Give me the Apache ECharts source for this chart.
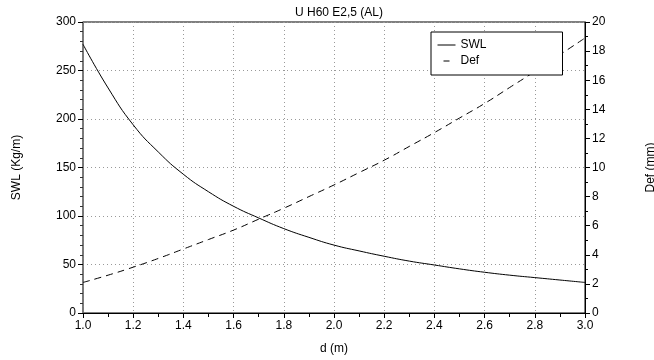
<!DOCTYPE html>
<html>
<head>
<meta charset="utf-8">
<script src="https://cdn.jsdelivr.net/npm/echarts@6/dist/echarts.min.js"></script>
<style>html,body{margin:0;padding:0;background:#fff;}#c{width:654px;height:360px;}</style>
</head>
<body>
<div id="c"></div>
<script>
var dValues = [1.0,1.1,1.2,1.3,1.4,1.5,1.6,1.7,1.8,1.9,2.0,2.1,2.2,2.3,2.4,2.5,2.6,2.7,2.8,2.9,3.0];
var swlValues = [277,232,194,166,143,125,110,98,87,78,70,64,58.5,53.5,49.5,45.5,42,39,36.5,34,31.5];
var defValues = [2.1,2.6,3.15,3.75,4.4,5.05,5.7,6.45,7.2,8.0,8.8,9.65,10.5,11.45,12.4,13.4,14.4,15.5,16.6,17.75,18.9];
var seriesNames = ['SWL','Def'];
var titleText = 'U H60 E2,5 (AL)';
var xName = 'd (m)', yLeftName = 'SWL (Kg/m)', yRightName = 'Def (mm)';

var FONT = 'Liberation Sans, Arial, sans-serif';
function pairs(xs, ys){ return xs.map(function(x,i){ return [x, ys[i]]; }); }
var chart = echarts.init(document.getElementById('c'), null, {renderer:'canvas'});
var gridLine = {show:true, lineStyle:{color:'#999', type:[1,3], width:1}};
chart.setOption({
  animation:false,
  backgroundColor:'#fff',
  textStyle:{fontFamily:FONT, color:'#000'},
  title:{text:titleText, left:334, textAlign:'center', top:2,
    textStyle:{fontFamily:FONT, fontSize:12, fontWeight:'normal', color:'#000'}},
  grid:{left:83, right:69, top:22, bottom:47, containLabel:false, outerBoundsMode:'none',
    show:true, borderColor:'#000', borderWidth:1, backgroundColor:'transparent'},
  legend:{orient:'vertical', left:431, top:32, padding:[7,76,8,6], itemWidth:18, itemHeight:12, itemGap:4,
    backgroundColor:'#fff', borderColor:'#000', borderWidth:1, borderRadius:0,
    itemStyle:{opacity:0, color:'transparent', borderWidth:0},
    textStyle:{fontFamily:FONT, fontSize:12, color:'#000'},
    data:[
      {name:seriesNames[0], lineStyle:{type:'solid', width:1, color:'#000'}},
      {name:seriesNames[1], lineStyle:{type:[6,30], dashOffset:30, width:1, color:'#000'}}
    ]},
  xAxis:{type:'value', min:1, max:3, interval:0.2, name:xName, nameLocation:'middle', nameGap:30,
    nameTextStyle:{fontFamily:FONT, fontSize:12, color:'#000'},
    axisLine:{show:true, lineStyle:{color:'#000', width:1}},
    axisTick:{show:true, length:5, lineStyle:{color:'#000'}},
    minorTick:{show:true, splitNumber:2, length:4, lineStyle:{color:'#000'}},
    axisLabel:{fontFamily:FONT, fontSize:12, color:'#000', margin:7, formatter:function(v){return v.toFixed(1);}},
    splitLine:gridLine},
  yAxis:[
    {type:'value', min:0, max:300, interval:50, position:'left', name:yLeftName, nameLocation:'middle', nameGap:60, nameRotate:90,
      nameTextStyle:{fontFamily:FONT, fontSize:12, color:'#000'},
      axisLine:{show:true, lineStyle:{color:'#777', width:1.5}},
      axisTick:{show:true, length:5, lineStyle:{color:'#000'}},
      minorTick:{show:true, splitNumber:5, length:3, lineStyle:{color:'#333'}},
      axisLabel:{fontFamily:FONT, fontSize:12, color:'#000', margin:7},
      splitLine:gridLine},
    {type:'value', min:0, max:20, interval:2, position:'right', name:yRightName, nameLocation:'middle', nameGap:60, nameRotate:90,
      nameTextStyle:{fontFamily:FONT, fontSize:12, color:'#000'},
      axisLine:{show:true, lineStyle:{color:'#000', width:1}},
      axisTick:{show:true, length:5, lineStyle:{color:'#000'}},
      minorTick:{show:true, splitNumber:2, length:3, lineStyle:{color:'#000'}},
      axisLabel:{fontFamily:FONT, fontSize:12, color:'#000', margin:7},
      splitLine:{show:false}}
  ],
  series:[
    {name:seriesNames[0], type:'line', yAxisIndex:0, data:pairs(dValues, swlValues), smooth:true, showSymbol:false, symbol:'none',
      lineStyle:{color:'#000', width:1, type:'solid'}, itemStyle:{color:'#000'}},
    {name:seriesNames[1], type:'line', yAxisIndex:1, data:pairs(dValues, defValues), smooth:true, showSymbol:false, symbol:'none',
      lineStyle:{color:'#000', width:1, type:[7,5]}, itemStyle:{color:'#000'}}
  ]
});
</script>
</body>
</html>
